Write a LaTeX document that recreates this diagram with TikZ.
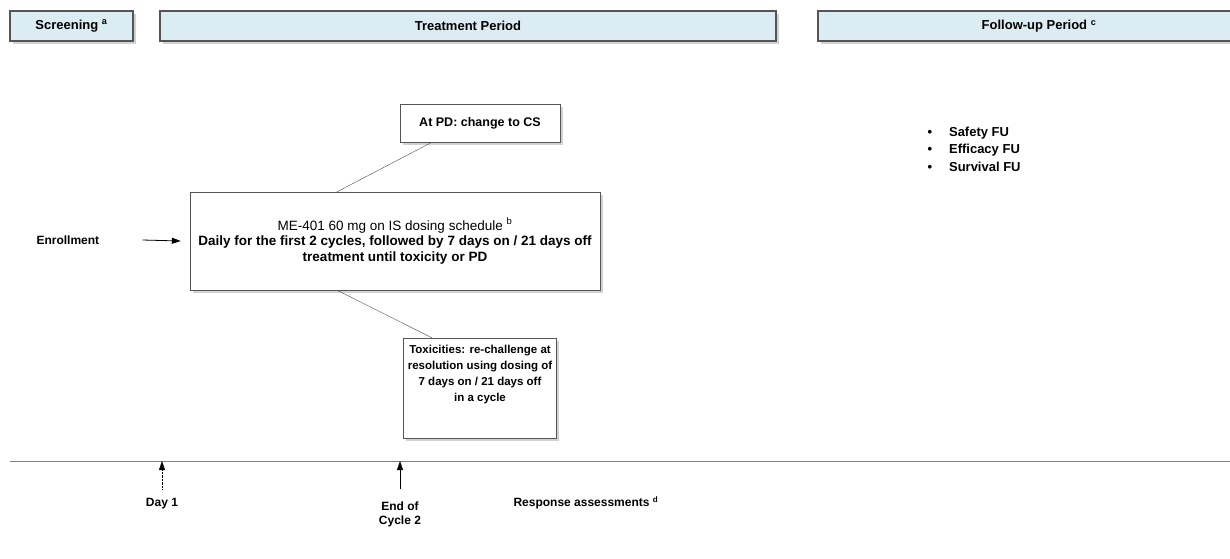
\documentclass[tikz,border=0pt]{standalone}
\usepackage{fontspec}
\setmainfont{Liberation Sans}
\usetikzlibrary{arrows.meta, positioning, shadows}
\definecolor{headfill}{HTML}{DBECF2}
\definecolor{edgegray}{HTML}{555555}

\begin{document}
\begin{tikzpicture}[
  x=1pt, y=-1pt,
  font=\fontsize{12}{14}\selectfont,
  box shadow/.style={drop shadow={shadow xshift=2.5pt, shadow yshift=-2.5pt, fill=black!35}},
  phase head/.style={draw=edgegray, line width=1.1pt, fill=headfill, minimum height=30pt, font=\fontsize{13}{15}\selectfont\bfseries, box shadow},
  dose box/.style={draw=edgegray, fill=white, align=center, font=\fontsize{13.5}{15.5}\selectfont, box shadow},
  note box/.style={draw=edgegray, fill=white, align=center, font=\fontsize{12.5}{15.5}\selectfont\bfseries, box shadow},
  link line/.style={draw=black!70, thin},
  time arrow/.style={-{Triangle[length=9pt, width=6pt]}, black},
  plain label/.style={font=\fontsize{12}{14}\selectfont\bfseries, align=center},
  fu item/.style={font=\fontsize{13}{15}\selectfont\bfseries, anchor=west}
]
  \useasboundingbox (0,0) rectangle (1230,558);

  % phase headers
  \node[phase head, minimum width=123pt] (screen head) at (71.5,26) {Screening \textsuperscript{a}};
  \node[phase head, minimum width=616pt] (treat head) at (468,26) {Treatment Period};
  \node[phase head, minimum width=442pt] (fu head) at (1039,26) {Follow-up Period \textsuperscript{c}};

  % treatment
  \node[dose box, minimum width=410pt, minimum height=98pt] (dose main) at (395,241)
    {ME-401 60 mg on IS dosing schedule \textsuperscript{b}\\
     \bfseries Daily for the first 2 cycles, followed by 7 days on / 21 days off\\
     \bfseries treatment until toxicity or PD};
  \node[note box, minimum width=160pt, minimum height=38pt] (pd note) at (480,123) {At PD: change to CS};
  \node[note box, inner sep=0pt, font=\fontsize{11.5}{16}\selectfont\bfseries] (tox note) at (480,388)
    {\parbox[t][100pt][c]{153pt}{\centering\vspace{4pt}Toxicities: re-challenge at\\resolution using dosing of\\7 days on / 21 days off\\in a cycle\par\vspace{30pt}}};
  \draw[link line] ([xshift=-48pt]pd note.south) -- ([xshift=-58pt]dose main.north);
  \draw[link line] ([xshift=-58pt]dose main.south) -- ([xshift=-48pt]tox note.north);

  % enrollment
  \node[plain label, anchor=west] (enrol) at (33,240) {Enrollment};
  \draw[time arrow, line width=0.8pt] ([xshift=40pt]enrol.east) -- ([xshift=-9pt]dose main.west);

  % follow-up
  \node[fu item] (fu safety) at (924,133) {\textbullet\hspace{17pt}Safety FU};
  \node[fu item] (fu efficacy) at (924,150) {\textbullet\hspace{17pt}Efficacy FU};
  \node[fu item] (fu survival) at (924,167) {\textbullet\hspace{17pt}Survival FU};

  % timeline
  \coordinate (tl start) at (10,461);
  \coordinate (tl end) at (1230,461);
  \draw[black!50, line width=1pt] (tl start) -- (tl end);

  \coordinate (day1 foot) at (162,489);
  \coordinate (cyc2 foot) at (400,489);
  \draw[time arrow, densely dotted] (day1 foot) -- (day1 foot |- tl start);
  \draw[time arrow, thin] (cyc2 foot) -- (cyc2 foot |- tl start);
  \node[plain label] (day1 lbl) at (162,504) {Day 1};
  \node[plain label] (cyc2 lbl) at (400,514) {End of\\Cycle 2};
  \node[plain label, anchor=west] (resp lbl) at (510,503) {Response assessments \textsuperscript{d}};
\end{tikzpicture}
\end{document}
